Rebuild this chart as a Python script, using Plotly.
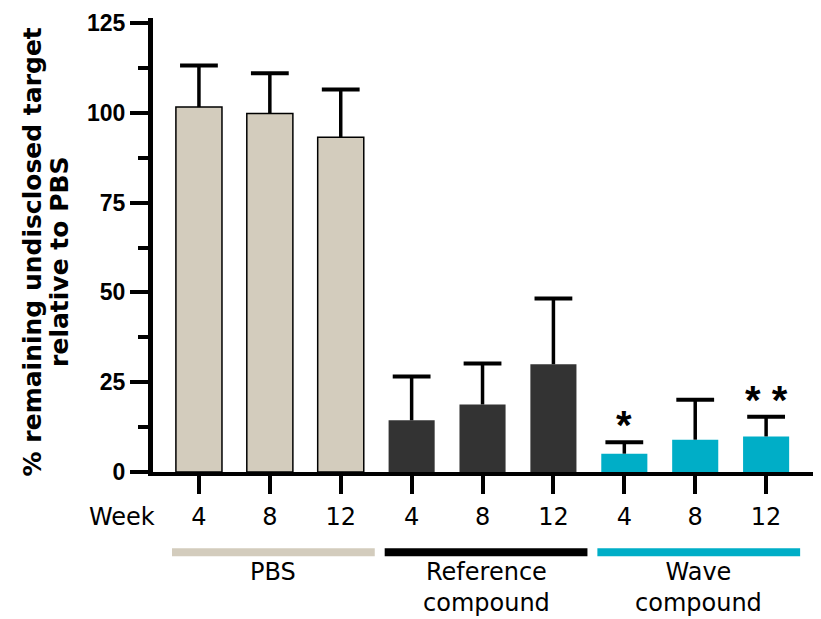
import plotly.graph_objects as go

# ---- data ----
groups = ["PBS", "Reference<br>compound", "Wave<br>compound"]
weeks = ["4", "8", "12"]
pbs_vals = [101.6, 99.8, 93.2]
pbs_err = [11.6, 11.2, 13.3]
ref_vals = [14.4, 18.8, 30.0]
ref_err = [12.2, 11.4, 18.3]
wave_vals = [5.1, 9.0, 9.9]
wave_err = [3.2, 11.1, 5.5]
sig_labels = ["*", "", "* *"]
y_ticks = [0, 25, 50, 75, 100, 125]

colors = ["#D3CCBD", "#333333", "#00AEC7"]
line_colors = ["#D3CCBD", "#000000", "#00AEC7"]

x_all = list(range(9))
tick_text = weeks * 3

fig = go.Figure()
series = [(pbs_vals, pbs_err), (ref_vals, ref_err), (wave_vals, wave_err)]
for gi, (vals, errs) in enumerate(series):
    xs = [gi * 3 + k for k in range(3)]
    fig.add_trace(go.Bar(
        x=xs, y=vals, width=0.65,
        marker=dict(color=colors[gi],
                    line=dict(color="#000000" if gi == 0 else colors[gi], width=1.5 if gi == 0 else 0)),
        showlegend=False,
    ))
    # error stems (no caps) from bar top upward, caps drawn as markers
    tops = [v + e for v, e in zip(vals, errs)]
    fig.add_trace(go.Scatter(
        x=xs, y=tops, mode="markers",
        marker=dict(symbol="line-ew", size=27, color="black", line=dict(width=4, color="black")),
        error_y=dict(type="data", array=[0, 0, 0], symmetric=False, arrayminus=errs,
                     color="black", thickness=3.5, width=0),
        showlegend=False, hoverinfo="skip",
    ))

# significance asterisks (wave group)
for k, lab in enumerate(sig_labels):
    if lab:
        xi = 6 + k
        top = wave_vals[k] + wave_err[k]
        fig.add_annotation(x=xi, y=top, text=lab, showarrow=False, yanchor="middle",
                           yshift=17, font=dict(family="Liberation Sans", size=40, color="black", weight="bold"))

# group lines and labels
for gi, g in enumerate(groups):
    c = gi * 3 + 1.05
    fig.add_shape(type="line", xref="x", yref="paper", x0=c - 1.43, x1=c + 1.43,
                  y0=-0.177, y1=-0.177, line=dict(color=line_colors[gi], width=8))
    fig.add_annotation(x=c, xref="x", y=-0.1843, yref="paper", text=g,
                       showarrow=False, yanchor="top", align="center",
                       font=dict(family="DejaVu Sans", size=24, color="black"))

fig.add_annotation(x=-0.0458, xref="paper", y=-0.1, yref="paper", text="Week", showarrow=False,
                   xanchor="center", yanchor="middle",
                   font=dict(family="DejaVu Sans", size=24, color="black"))

# y title as two lines
fig.add_annotation(x=-0.1808, xref="paper", y=0.485, yref="paper", text="% remaining undisclosed target",
                   showarrow=False, textangle=-90, xanchor="center", yanchor="middle",
                   font=dict(family="DejaVu Sans", size=25, color="black", weight="bold"))
fig.add_annotation(x=-0.1395, xref="paper", y=0.463, yref="paper", text="relative to PBS",
                   showarrow=False, textangle=-90, xanchor="center", yanchor="middle",
                   font=dict(family="DejaVu Sans", size=25, color="black", weight="bold"))

fig.update_layout(
    width=813, height=611,
    margin=dict(l=144.5, r=2, t=2, b=147),
    plot_bgcolor="white", paper_bgcolor="white",
    xaxis=dict(range=[-0.648, 8.746], tickvals=x_all, ticktext=tick_text,
               showline=True, linewidth=4, linecolor="black",
               ticks="outside", ticklen=18, tickwidth=4, tickcolor="black",
               ticklabelstandoff=2,
               showgrid=False, zeroline=False,
               tickfont=dict(family="DejaVu Sans", size=24, color="black")),
    yaxis=dict(range=[0, 126.4], tickvals=y_ticks,
               showline=True, linewidth=5, linecolor="black",
               ticks="outside", ticklen=18, tickwidth=4, tickcolor="black",
               ticklabeloverflow="allow",
               minor=dict(dtick=12.5, ticks="outside", ticklen=10, tickwidth=4, tickcolor="black"),
               showgrid=False, zeroline=False,
               tickfont=dict(family="Liberation Sans", size=23, color="black", weight="bold")),
)

fig.write_html("out.html")
